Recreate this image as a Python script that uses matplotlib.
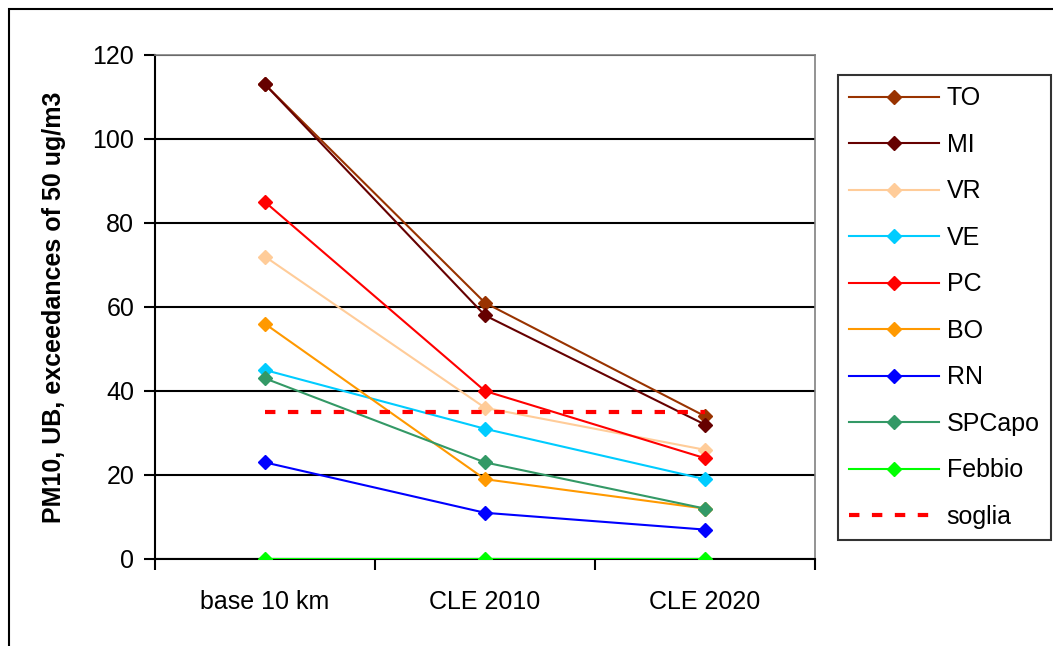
import matplotlib
matplotlib.use('Agg')
import matplotlib.pyplot as plt
from matplotlib.patches import Rectangle

plt.rcParams['font.family'] = ['Liberation Sans', 'DejaVu Sans']

scenarios = ['base 10 km', 'CLE 2010', 'CLE 2020']
names = ['TO', 'MI', 'VR', 'VE', 'PC', 'BO', 'RN', 'SPCapo', 'Febbio']
to_vals = [113, 61, 34]
mi_vals = [113, 58, 32]
vr_vals = [72, 36, 26]
ve_vals = [45, 31, 19]
pc_vals = [85, 40, 24]
bo_vals = [56, 19, 12]
rn_vals = [23, 11, 7]
spcapo_vals = [43, 23, 12]
febbio_vals = [0, 0, 0]
soglia_vals = [35, 35, 35]

series = [to_vals, mi_vals, vr_vals, ve_vals, pc_vals, bo_vals, rn_vals, spcapo_vals, febbio_vals]
colors = ['#993300', '#660000', '#FFCC99', '#00CCFF', '#FF0000', '#FF9900', '#0000FF', '#339966', '#00FF00']

fig = plt.figure(figsize=(10.53, 6.46), dpi=100)
ax = fig.add_axes([155/1053, 1 - 559/646, 660/1053, 504/646])

# outer chart border (right and bottom edges fall outside the picture)
fig.patches.append(Rectangle((9/1053, -0.01), 1.1, 1 - 9/646 + 0.01,
                             transform=fig.transFigure, fill=False,
                             edgecolor='black', linewidth=1.5))

x = list(range(len(scenarios)))
for vals, name, c in zip(series, names, colors):
    ax.plot(x, vals, color=c, marker='D', markersize=7, linewidth=1.5, label=name, zorder=3)
ax.plot(x, soglia_vals, color='#FF0000', linestyle=(0, (2.5, 3)), linewidth=3, label='soglia', zorder=3)

ax.set_xlim(-0.5, 2.5)
ax.set_ylim(0, 120)
ax.set_yticks(range(0, 121, 20))
ax.set_xticks([-0.5, 0.5, 1.5, 2.5])
ax.set_xticklabels([])
ax.set_xticks(x, minor=True)
ax.set_xticklabels(scenarios, minor=True)
ax.tick_params(axis='x', which='minor', length=0, pad=22, labelsize=18)
ax.tick_params(axis='x', which='major', direction='out', length=8, width=1.5)
ax.tick_params(axis='y', direction='out', length=8, width=1.5, labelsize=18, pad=7)

ax.yaxis.grid(True, color='black', linewidth=1.5, zorder=1)
ax.set_axisbelow(True)
for s in ['top', 'right']:
    ax.spines[s].set_color('#808080')
    ax.spines[s].set_linewidth(1.2)
for s in ['left', 'bottom']:
    ax.spines[s].set_color('black')
    ax.spines[s].set_linewidth(1.5)

ax.set_ylabel('PM10, UB, exceedances of 50 ug/m3', fontsize=18, fontweight='bold')
ax.yaxis.set_label_coords((66 - 155) / 660, 0.5)

leg = ax.legend(loc='upper left', bbox_to_anchor=(838/1053, 1 - 75/646),
                bbox_transform=fig.transFigure, fontsize=18,
                frameon=True, fancybox=False, edgecolor='black', handlelength=3.6,
                labelspacing=0.9, borderaxespad=0, handletextpad=0.3, borderpad=0.45)
leg.get_frame().set_linewidth(1.5)

fig.savefig('out.png', dpi=100)
